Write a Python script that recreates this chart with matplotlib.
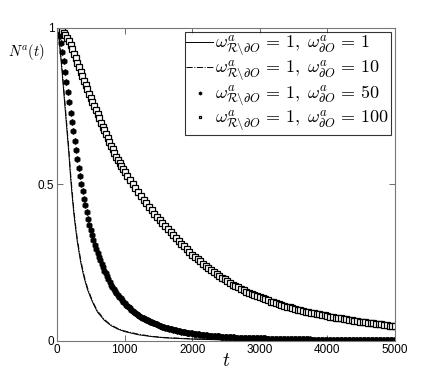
import numpy as np
import matplotlib
matplotlib.use("Agg")
import matplotlib.pyplot as plt

plt.rcParams['mathtext.fontset'] = 'cm'
plt.rcParams['font.family'] = ['Liberation Sans', 'DejaVu Sans']

# ---- data ----
t_line = [0, 10, 20, 30, 50, 75, 100, 125, 150, 175, 200, 225, 250, 275, 300, 350, 400,
          450, 500, 550, 600, 700, 800, 900, 1000, 1200, 1400, 1600, 1800, 2000, 2500,
          3000, 3500, 4000, 4500, 5000]
N_w1 = [1.000, 0.995, 0.983, 0.965, 0.92, 0.86, 0.795, 0.73, 0.665, 0.60, 0.525, 0.462,
        0.405, 0.360, 0.318, 0.252, 0.203, 0.165, 0.137, 0.113, 0.092, 0.066, 0.049,
        0.038, 0.030, 0.020, 0.014, 0.010, 0.008, 0.006, 0.003, 0.0017, 0.001, 0.0006,
        0.0003, 0.0002]
N_w10 = [1.000, 0.997, 0.987, 0.972, 0.93, 0.872, 0.808, 0.744, 0.68, 0.615, 0.540,
         0.476, 0.418, 0.370, 0.327, 0.260, 0.210, 0.171, 0.142, 0.117, 0.096, 0.069,
         0.051, 0.040, 0.032, 0.022, 0.015, 0.011, 0.009, 0.007, 0.004, 0.002, 0.0012,
         0.0007, 0.0004, 0.0002]

t_w50 = np.arange(0, 5001, 20)
N_w50 = [1.000, 0.993, 0.976, 0.951, 0.923, 0.895, 0.861, 0.827, 0.794, 0.762,
         0.730, 0.700, 0.670, 0.640, 0.610, 0.580, 0.554, 0.528, 0.503, 0.479,
         0.455, 0.433, 0.411, 0.390, 0.372, 0.355, 0.339, 0.323, 0.308, 0.294,
         0.280, 0.269, 0.258, 0.247, 0.236, 0.225, 0.216, 0.207, 0.198, 0.189,
         0.180, 0.174, 0.167, 0.161, 0.154, 0.148, 0.142, 0.137, 0.131, 0.126,
         0.120, 0.116, 0.112, 0.108, 0.104, 0.100, 0.097, 0.093, 0.090, 0.086,
         0.083, 0.080, 0.078, 0.075, 0.073, 0.070, 0.068, 0.066, 0.064, 0.062,
         0.060, 0.058, 0.056, 0.055, 0.053, 0.051, 0.049, 0.048, 0.046, 0.045,
         0.043, 0.042, 0.041, 0.039, 0.038, 0.037, 0.036, 0.035, 0.034, 0.033,
         0.032,
         0.031, 0.030, 0.030, 0.029, 0.028, 0.027, 0.026, 0.026, 0.025, 0.024,
         0.023, 0.023, 0.022, 0.022, 0.021, 0.020, 0.020, 0.019, 0.019, 0.018,
         0.018, 0.017, 0.017, 0.017, 0.016, 0.016, 0.016, 0.015, 0.015, 0.015,
         0.014, 0.014, 0.014, 0.013, 0.013,
         0.013, 0.013, 0.012, 0.012, 0.012, 0.012, 0.011, 0.011, 0.011, 0.011,
         0.011, 0.010, 0.010, 0.010, 0.010, 0.010, 0.009, 0.009, 0.009, 0.009,
         0.009, 0.009, 0.008, 0.008, 0.008,
         0.008, 0.008, 0.008, 0.008, 0.007, 0.007, 0.007, 0.007, 0.007, 0.007,
         0.007, 0.007, 0.006, 0.006, 0.006, 0.006, 0.006, 0.006, 0.006, 0.006,
         0.006, 0.005, 0.005, 0.005, 0.005,
         0.005, 0.005, 0.005, 0.005, 0.005, 0.005, 0.005, 0.005, 0.005, 0.005,
         0.005, 0.005, 0.004, 0.004, 0.004, 0.004, 0.004, 0.004, 0.004, 0.004,
         0.004, 0.004, 0.004, 0.004, 0.004,
         0.004, 0.004, 0.004, 0.004, 0.004, 0.004, 0.004, 0.004, 0.004, 0.004,
         0.004, 0.004, 0.003, 0.003, 0.003, 0.003, 0.003, 0.003, 0.003, 0.003,
         0.003, 0.003, 0.003, 0.003, 0.003,
         0.003, 0.003, 0.003, 0.003, 0.003, 0.003, 0.003, 0.003, 0.003, 0.003,
         0.003, 0.003, 0.002, 0.002, 0.002, 0.002, 0.002, 0.002, 0.002, 0.002,
         0.002, 0.002, 0.002, 0.002, 0.002]

t_w100 = np.concatenate([np.arange(0, 1001, 25), np.arange(1040, 5001, 40)])
N_w100 = [1.000, 0.999, 0.996, 0.991, 0.985, 0.977, 0.968, 0.957, 0.945, 0.932, 0.918,
          0.904, 0.889, 0.874, 0.860, 0.846, 0.832, 0.818, 0.804, 0.790, 0.776, 0.763,
          0.750, 0.737, 0.724, 0.711, 0.698, 0.685, 0.673, 0.660, 0.648, 0.636, 0.624,
          0.612, 0.600, 0.589, 0.578, 0.568, 0.558, 0.549, 0.540,
          0.527, 0.514, 0.501, 0.488, 0.475, 0.463, 0.452, 0.440, 0.429, 0.417,
          0.407, 0.397, 0.386, 0.376, 0.366, 0.357, 0.348, 0.338, 0.329, 0.320,
          0.311, 0.302, 0.294, 0.285, 0.276, 0.269, 0.262, 0.254, 0.247, 0.240,
          0.234, 0.227, 0.221, 0.214, 0.208, 0.202, 0.197, 0.191, 0.186, 0.180,
          0.175, 0.171, 0.166, 0.162, 0.157, 0.153, 0.150, 0.146, 0.143, 0.139,
          0.136, 0.133, 0.130, 0.126, 0.123, 0.120, 0.118, 0.115, 0.112, 0.109,
          0.107, 0.105, 0.102, 0.100, 0.098, 0.096, 0.094, 0.092, 0.090, 0.088,
          0.086, 0.085, 0.083, 0.082, 0.080, 0.078, 0.077, 0.075, 0.074, 0.072,
          0.071, 0.069, 0.068, 0.066, 0.065, 0.064, 0.062, 0.061, 0.060, 0.059,
          0.058, 0.056, 0.055, 0.054, 0.053, 0.052, 0.050, 0.049, 0.048, 0.047]

labels = [r'$\omega^a_{\mathcal{R}\backslash\partial O}\,=\,1,\;\omega^a_{\partial O}\,=\,1$',
          r'$\omega^a_{\mathcal{R}\backslash\partial O}\,=\,1,\;\omega^a_{\partial O}\,=\,10$',
          r'$\omega^a_{\mathcal{R}\backslash\partial O}\,=\,1,\;\omega^a_{\partial O}\,=\,50$',
          r'$\omega^a_{\mathcal{R}\backslash\partial O}\,=\,1,\;\omega^a_{\partial O}\,=\,100$']
xticks = [0, 1000, 2000, 3000, 4000, 5000]
yticks = [0, 0.5, 1]
ytick_labels = ['0', '0.5', '1']

# ---- figure ----
fig = plt.figure(figsize=(4.36, 3.83), dpi=100)
ax = fig.add_axes([0.1307, 0.1097, 0.7753, 0.8172])

ax.plot(t_line, N_w1, '-', color='black', lw=0.7, label=labels[0])
ax.plot(t_line, N_w10, '-.', color='black', lw=0.7, label=labels[1])
ax.plot(t_w50, N_w50, linestyle='none', marker='h', ms=4.3, mec='black', mfc='black',
        mew=0.5, label=labels[2])
ax.plot(t_w100, N_w100, linestyle='none', marker='s', ms=3.9, mec='black', mfc='white',
        mew=0.9, label=labels[3])

ax.set_xlim(0, 5000)
ax.set_ylim(0, 1)
ax.set_xticks(xticks)
ax.set_yticks(yticks)
ax.set_yticklabels(ytick_labels)
ax.tick_params(direction='in', top=True, right=True, length=4, width=0.6,
               labelsize=8.5, colors='#555555', labelcolor='black', pad=2)
for s in ax.spines.values():
    s.set_color('#777777')
    s.set_linewidth(0.8)

ax.set_xlabel(r'$t$', fontsize=14, labelpad=-2)
fig.text(0.019, 0.865, r'$N^a(t)$', fontsize=10.5, ha='left', va='center')

leg = ax.legend(loc='upper right', fontsize=13, frameon=True, fancybox=False,
                edgecolor='black', borderaxespad=0.2, handlelength=1.45,
                handletextpad=0.15, labelspacing=0.0, borderpad=0.1, markerscale=0.55)
leg.get_frame().set_linewidth(0.8)

fig.savefig('out.png', dpi=100)
